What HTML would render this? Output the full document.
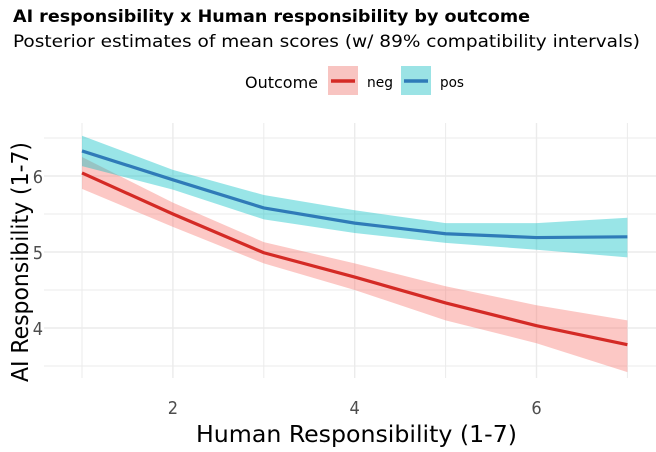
<!DOCTYPE html>
<html><head><meta charset="utf-8"><style>
body{margin:0;background:#fff;font-family:"DejaVu Sans Condensed","Liberation Sans",sans-serif}
</style></head><body>
<svg id="c" width="656" height="448" xmlns="http://www.w3.org/2000/svg" font-family="DejaVu Sans Condensed, Liberation Sans, sans-serif">
<text x="13" y="22" font-size="17" font-weight="bold" fill="#000" textLength="517" lengthAdjust="spacingAndGlyphs">AI responsibility x Human responsibility by outcome</text>
<text x="13" y="47" font-size="17" fill="#000" textLength="627" lengthAdjust="spacingAndGlyphs">Posterior estimates of mean scores (w/ 89% compatibility intervals)</text>
<g>
<text x="245" y="88" font-size="16" textLength="73" lengthAdjust="spacingAndGlyphs">Outcome</text>
<rect x="328" y="66" width="30" height="29" fill="#f8c4c1"/>
<line x1="331" y1="81" x2="355" y2="81" stroke="#d42a25" stroke-width="3.5"/>
<text x="367" y="87" font-size="14" textLength="26" lengthAdjust="spacingAndGlyphs">neg</text>
<rect x="401" y="66" width="30" height="29" fill="#9be3e5"/>
<line x1="404" y1="81" x2="428" y2="81" stroke="#2f7bb8" stroke-width="3.5"/>
<text x="440" y="87" font-size="14" textLength="24" lengthAdjust="spacingAndGlyphs">pos</text>
</g>
<g id="grid"></g><g id="marks"></g><g id="axes"></g>
<text x="196" y="442" font-size="23" textLength="321" lengthAdjust="spacingAndGlyphs">Human Responsibility (1-7)</text>
<text transform="translate(28,382) rotate(-90)" font-size="23" textLength="240" lengthAdjust="spacingAndGlyphs">AI Responsibility (1-7)</text>
</svg>
<script>
const xs=[1,2,3,4,5,6,7];
const negMean=[6.04,5.5,4.99,4.67,4.33,4.03,3.78];
const negLo=[5.83,5.33,4.85,4.5,4.1,3.8,3.42];
const negHi=[6.25,5.65,5.13,4.85,4.55,4.3,4.1];
const posMean=[6.33,5.95,5.58,5.38,5.24,5.19,5.2];
const posLo=[6.13,5.82,5.43,5.25,5.12,5.03,4.93];
const posHi=[6.53,6.08,5.75,5.55,5.38,5.38,5.45];
const xTicks=[2,4,6];
const yTicks=[4,5,6];
const PL=44,PR=656,PT=123,PB=378;
const X=v=>82+(v-1)*90.9;
const Y=v=>176-(v-6)*76;
const ns="http://www.w3.org/2000/svg";
function mk(t,a,p){const e=document.createElementNS(ns,t);for(const k in a)e.setAttribute(k,a[k]);p.appendChild(e);return e;}
const grid=document.getElementById('grid'),marks=document.getElementById('marks'),axes=document.getElementById('axes');
for(let v=1;v<=7;v+=1){const l=mk('line',{x1:X(v),x2:X(v),y1:PT,y2:PB,stroke:'#ebebeb','stroke-width':v%2==0?1.4:1},grid);

}
for(let v=3.5;v<=6.5;v+=0.5){const l=mk('line',{x1:PL,x2:PR,y1:Y(v),y2:Y(v),stroke:'#ebebeb','stroke-width':v%1==0?1.4:1},grid);

}
function band(lo,hi,fill,name){let d='M'+xs.map((x,i)=>X(x)+','+Y(hi[i])).join('L');
for(let i=xs.length-1;i>=0;i--)d+='L'+X(xs[i])+','+Y(lo[i]);
const p=mk('path',{d:d+'Z',fill:fill},marks);

}
function line(m,col,name){const p=mk('path',{d:'M'+xs.map((x,i)=>X(x)+','+Y(m[i])).join('L'),fill:'none',stroke:col,'stroke-width':3.2,'stroke-linejoin':'round'},marks);

}
band(negLo,negHi,'rgba(248,118,109,0.4)','neg-interval-band');
band(posLo,posHi,'rgba(0,191,196,0.4)','pos-interval-band');
line(negMean,'#d42a25','neg-line');
line(posMean,'#2f7bb8','pos-line');
xTicks.forEach(v=>{const t=mk('text',{x:X(v),y:414,'text-anchor':'middle','font-size':18,fill:'#4d4d4d'},axes);t.textContent=v;

});
yTicks.forEach(v=>{const t=mk('text',{x:43,y:Y(v)+7,'text-anchor':'end','font-size':18,fill:'#4d4d4d'},axes);t.textContent=v;

});
</script>
</body></html>
